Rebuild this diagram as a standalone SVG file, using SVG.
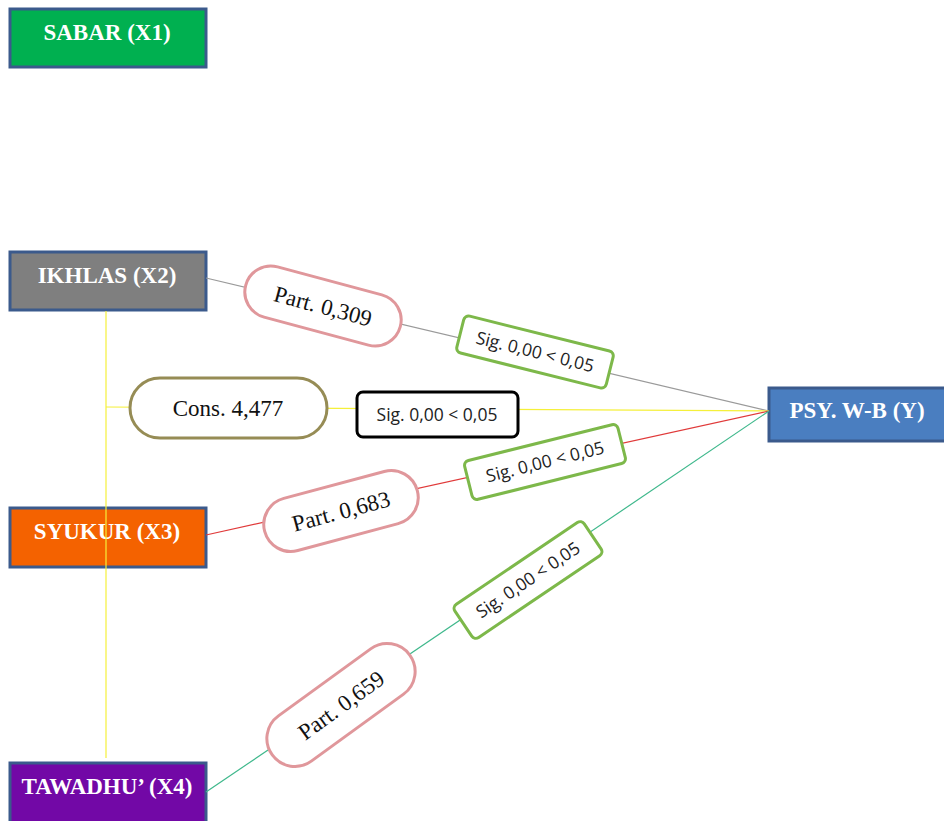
<svg xmlns="http://www.w3.org/2000/svg" width="944" height="821" viewBox="0 0 944 821">
<style>
.node{stroke:#3B5A8C;stroke-width:3}
.nt{font-family:"Liberation Serif",serif;font-weight:bold;font-size:23px;fill:#fff;text-anchor:middle}
.pill{fill:#fff;stroke:#E0979B;stroke-width:3}
.sig{fill:#fff;stroke:#7DB84A;stroke-width:3}
.pt{font-family:"Liberation Serif",serif;font-size:23px;fill:#111;text-anchor:middle}
.st{font-family:"Open Sans","Liberation Sans",sans-serif;font-size:17.5px;fill:#222;text-anchor:middle}
</style>
<rect width="944" height="821" fill="#fff"/>
<g id="sabar"><rect class="node" x="10" y="9" width="196" height="58" fill="#00B050"/><text class="nt" x="107" y="40">SABAR (X1)</text></g>
<g id="ikhlas"><rect class="node" x="10" y="252" width="196" height="58" fill="#7F7F7F"/><text class="nt" x="107" y="283">IKHLAS (X2)</text></g>
<g id="syukur"><rect class="node" x="10" y="508" width="196" height="59" fill="#F46200"/><text class="nt" x="107" y="539">SYUKUR (X3)</text></g>
<g id="tawadhu"><rect class="node" x="10" y="763" width="196" height="62" fill="#7208A6"/><text class="nt" x="107" y="794">TAWADHU’ (X4)</text></g>
<g id="psy"><rect class="node" x="769" y="388" width="178" height="53" fill="#4A7EC0"/><text class="nt" x="857" y="418">PSY. W-B (Y)</text></g>
<g id="connectors" fill="none" stroke-width="1.2">
<line x1="206" y1="278" x2="769" y2="411" stroke="#9A9A9A"/>
<line x1="106" y1="407" x2="769" y2="411" stroke="#F5F03A"/>
<line x1="106" y1="311" x2="106" y2="758" stroke="#F5F03A"/>
<line x1="206" y1="535" x2="769" y2="411" stroke="#E03A3A"/>
<line x1="206" y1="792" x2="769" y2="411" stroke="#3FB88C"/>
</g>
<g id="part309" transform="translate(323,306) rotate(15)"><rect class="pill" x="-80" y="-26" width="160" height="52" rx="26"/><text class="pt" y="8">Part. 0,309</text></g>
<g id="sig1" transform="translate(535,352) rotate(14)"><rect class="sig" x="-77" y="-19" width="154" height="38" rx="5"/><text class="st" y="6">Sig. 0,00 &lt; 0,05</text></g>
<g id="cons"><rect x="130" y="378" width="197" height="60" rx="30" fill="#fff" stroke="#968C55" stroke-width="3"/><text class="pt" x="228" y="416">Cons. 4,477</text></g>
<g id="sig0"><rect x="357" y="392" width="161" height="45" rx="6" fill="#fff" stroke="#000" stroke-width="3"/><text class="st" x="437" y="421">Sig. 0,00 &lt; 0,05</text></g>
<g id="sig2" transform="translate(545,462) rotate(-14)"><rect class="sig" x="-79" y="-20" width="158" height="40" rx="5"/><text class="st" y="6">Sig. 0,00 &lt; 0,05</text></g>
<g id="part683" transform="translate(341,511) rotate(-15)"><rect class="pill" x="-79" y="-27" width="158" height="54" rx="27"/><text class="pt" y="8">Part. 0,683</text></g>
<g id="sig3" transform="translate(528,580) rotate(-34)"><rect class="sig" x="-78" y="-20" width="156" height="40" rx="5"/><text class="st" y="6">Sig. 0,00 &lt; 0,05</text></g>
<g id="part659" transform="translate(341,705) rotate(-36)"><rect class="pill" x="-85" y="-28" width="170" height="56" rx="28"/><text class="pt" y="8">Part. 0,659</text></g>
</svg>
